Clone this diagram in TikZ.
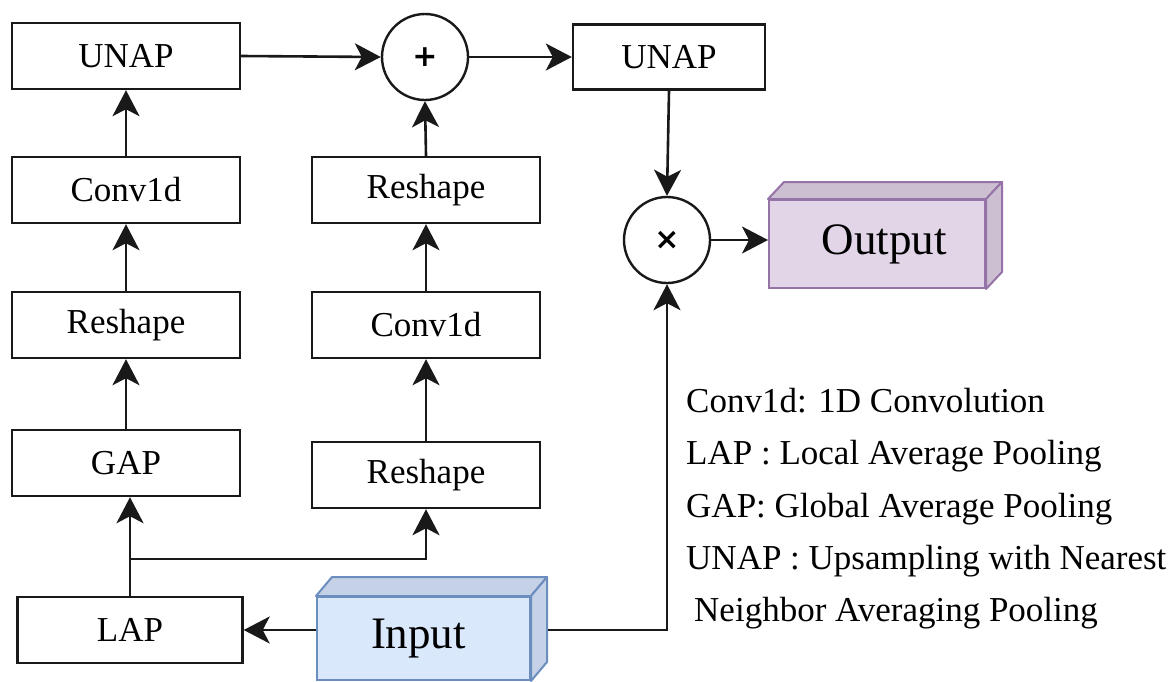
\documentclass[tikz,border=0pt]{standalone}
\usepackage{fontspec}
\setmainfont{Liberation Serif}
\newfontfamily\signfont{DejaVu Sans}
\usetikzlibrary{arrows.meta,calc}

\definecolor{inFill}{HTML}{DAE8FC}
\definecolor{inLine}{HTML}{6C8EBF}
\definecolor{inShade}{HTML}{C4D1E6}
\definecolor{outFill}{HTML}{E1D5E7}
\definecolor{outLine}{HTML}{9673A6}
\definecolor{outShade}{HTML}{CBBFD1}

\tikzset{
  blk/.style={draw=black!90, line width=2.4pt, minimum width=228pt, minimum height=66pt,
    inner sep=0pt, font=\fontsize{35}{40}\selectfont},
  opnode/.style={draw=black!90, line width=2.4pt, circle, minimum size=86pt, inner sep=0pt,
    font=\signfont\bfseries\fontsize{30}{34}\selectfont},
  cube/.style={line width=2pt, inner sep=0pt, font=\fontsize{45}{50}\selectfont},
  arr/.style={line width=2.6pt, draw=black!90,
    -{Stealth[length=26pt,width=27pt,inset=7pt]}},
  legend/.style={anchor=base west, inner sep=0pt, font=\fontsize{35}{40}\selectfont}
}

\begin{document}
\begin{tikzpicture}[x=1pt,y=-1pt]
  \useasboundingbox (0,0) rectangle (1174,681);

  % left branch (GAP path)
  \node[blk] (unapL) at (126,56) {UNAP};
  \node[blk] (convL) at (126,190) {Conv1d};
  \node[blk] (reshL) at (126,325) {Reshape};
  \node[blk] (gap)   at (126,463) {GAP};
  \node[blk, minimum width=225pt] (lap) at (130,630) {LAP};

  % middle branch
  \node[blk] (reshT) at (426,190) {Reshape};
  \node[blk] (convM) at (426,325) {Conv1d};
  \node[blk] (reshB) at (426,475) {Reshape};

  % fusion
  \node[opnode] (plus)  at (425,57) {+};
  \node[blk, minimum width=192pt, minimum height=65pt] (unapR) at (669,57) {UNAP};
  \node[opnode] (times) at (667,240) {×};

  % output block
  \node[cube, draw=outLine, fill=outFill, minimum width=216pt, minimum height=88pt]
    (out) at (877,244) {\hspace*{14pt}Output};
  \fill[outShade, draw=outLine, line width=2pt, line join=round]
    (out.north west) -- ($(out.north west)+(16,-17)$) -- ($(out.north east)+(16,-17)$)
    -- (out.north east) -- cycle;
  \fill[outShade, draw=outLine, line width=2pt, line join=round]
    (out.north east) -- ($(out.north east)+(16,-17)$) -- ($(out.south east)+(16,-17)$)
    -- (out.south east) -- cycle;

  % input block
  \node[cube, draw=inLine, fill=inFill, minimum width=213pt, minimum height=83pt]
    (in) at (423.5,638.5) {Input\hspace*{10pt}};
  \fill[inShade, draw=inLine, line width=2pt, line join=round]
    (in.north west) -- ($(in.north west)+(16,-19)$) -- ($(in.north east)+(16,-19)$)
    -- (in.north east) -- cycle;
  \fill[inShade, draw=inLine, line width=2pt, line join=round]
    (in.north east) -- ($(in.north east)+(16,-19)$) -- ($(in.south east)+(16,-19)$)
    -- (in.south east) -- cycle;
  \coordinate (inR) at ($(in.east |- lap.east)+(17,0)$);
  \coordinate (split) at ($(lap.north)+(0,-37)$);

  % connectors
  \draw[arr] (in.west |- lap.east) -- (lap.east);
  \draw[arr] (lap.north) -- (lap.north |- gap.south);
  \draw[arr] (split) -| (reshB.south);
  \draw[arr] (gap.north) -- (reshL.south);
  \draw[arr] (reshL.north) -- (convL.south);
  \draw[arr] (convL.north) -- (unapL.south);
  \draw[arr] (reshB.north) -- (convM.south);
  \draw[arr] (convM.north) -- (reshT.south);
  \draw[arr] (reshT.north) -- (plus.south);
  \draw[arr] (unapL.east) -- (plus.west);
  \draw[arr] (plus.east) -- (unapR.west);
  \draw[arr] (unapR.south) -- (times.north);
  \draw[arr] (times.east) -- (times.east -| out.west);
  \draw[arr] (inR) -| (times.south);

  % abbreviations
  \node[legend] (l1) at (686,412) {Conv1d: 1D Convolution};
  \node[legend] (l2) at (686,464) {LAP : Local Average Pooling};
  \node[legend] (l3) at (686,517) {GAP: Global Average Pooling};
  \node[legend] (l4) at (686,569) {UNAP : Upsampling with Nearest};
  \node[legend] (l5) at (694,621) {Neighbor Averaging Pooling};
\end{tikzpicture}
\end{document}
